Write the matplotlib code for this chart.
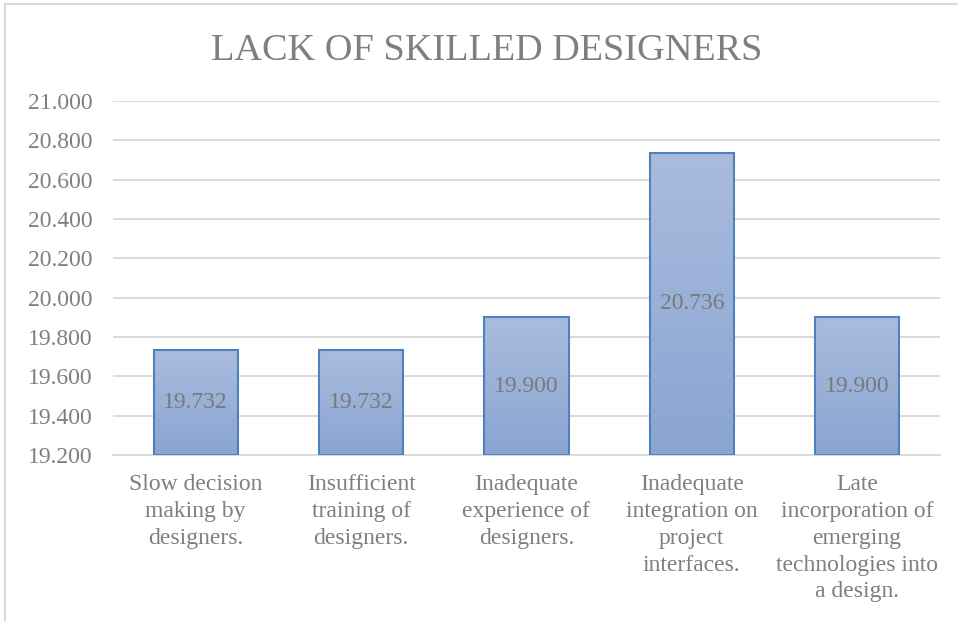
import numpy as np
import matplotlib
matplotlib.use("Agg")
import matplotlib.pyplot as plt
from matplotlib.colors import LinearSegmentedColormap
from matplotlib.lines import Line2D

categories = [
    "Slow decision\nmaking by\ndesigners.",
    "Insufficient\ntraining of\ndesigners.",
    "Inadequate\nexperience of\ndesigners.",
    "Inadequate\nintegration on\nproject\ninterfaces.",
    "Late\nincorporation of\nemerging\ntechnologies into\na design.",
]
values = [19.732, 19.732, 19.900, 20.736, 19.900]
y_ticks = [19.2, 19.4, 19.6, 19.8, 20.0, 20.2, 20.4, 20.6, 20.8, 21.0]
title = "LACK OF SKILLED DESIGNERS"

serif = "Liberation Serif"
text_grey = "#7f7f7f"
grid_grey = "#d9d9d9"

fig = plt.figure(figsize=(9.58, 6.21), dpi=100)
ax = fig.add_axes([0.118, 0.2673, 0.863, 0.5701])

ymin, ymax = 19.2, 21.0
x = np.arange(len(values))
bar_w = 0.51

bars = ax.bar(x, [v - ymin for v in values], bottom=ymin, width=bar_w,
              facecolor="none", edgecolor="#4f81bd", linewidth=1.5, zorder=3)

grad_cmap = LinearSegmentedColormap.from_list("bar_grad", ["#8aa5d2", "#a9bcdd"])
grad = np.linspace(0, 1, 256).reshape(-1, 1)
for rect, v in zip(bars, values):
    x0 = rect.get_x()
    im = ax.imshow(grad, cmap=grad_cmap, origin="lower", aspect="auto",
                   extent=(x0, x0 + bar_w, ymin, v), zorder=2)
    im.set_clip_path(rect)
    ax.text(rect.get_x() + bar_w / 2, (ymin + v) / 2, f"{v:.3f}",
            ha="center", va="center", fontsize=17, color="#7a7a7a",
            family=serif, zorder=4)

ax.set_xlim(-0.5, len(values) - 0.5)
ax.set_ylim(ymin, ymax)
ax.set_yticks(y_ticks)
ax.set_yticklabels([f"{t:.3f}" for t in y_ticks], family=serif)
ax.set_xticks(x)
ax.set_xticklabels(categories, linespacing=1.36, family=serif)

ax.yaxis.grid(True, color=grid_grey, linewidth=1.4, zorder=0)
ax.set_axisbelow(True)
for s in ["top", "right", "left"]:
    ax.spines[s].set_visible(False)
ax.spines["bottom"].set_color(grid_grey)
ax.spines["bottom"].set_linewidth(1.4)
ax.spines["bottom"].set_zorder(1)

ax.tick_params(axis="both", length=0, labelsize=17, labelcolor=text_grey)
ax.tick_params(axis="y", pad=15)
ax.tick_params(axis="x", pad=14)

fig.text(0.508, 0.919, title, ha="center", va="center", fontsize=27.5,
         color=text_grey, family=serif)

# chart frame edges
fig.add_artist(Line2D([0.005, 1.0], [0.993, 0.993], color=grid_grey, linewidth=1.5,
                      transform=fig.transFigure))
fig.add_artist(Line2D([0.005, 0.005], [0.0, 0.993], color=grid_grey, linewidth=1.5,
                      transform=fig.transFigure))

fig.savefig("out.png", dpi=100)
